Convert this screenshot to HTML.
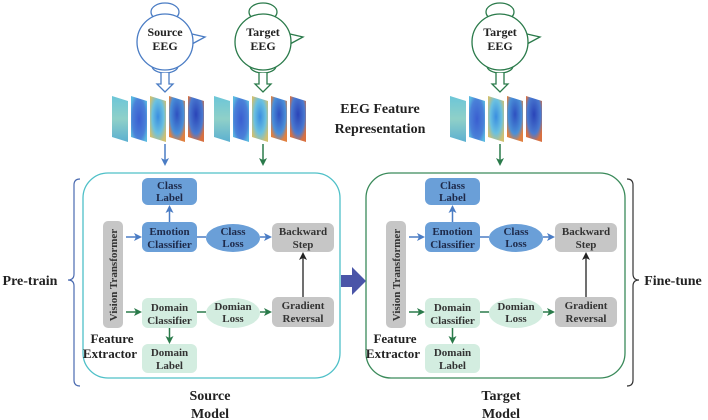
<!DOCTYPE html>
<html><head><meta charset="utf-8"><style>
html,body{margin:0;padding:0;background:#fff;}
svg{display:block;font-family:"Liberation Serif",serif;font-weight:bold;}
</style></head><body>
<svg width="708" height="420" viewBox="0 0 708 420" xmlns="http://www.w3.org/2000/svg">
<defs>
<linearGradient id="p1" x1="0" y1="0" x2="0" y2="1"><stop offset="0" stop-color="#6cc6d8"/><stop offset="0.5" stop-color="#8fd0c8"/><stop offset="1" stop-color="#5cb0d0"/></linearGradient>
<radialGradient id="p2" cx="0.5" cy="0.5" r="0.6"><stop offset="0" stop-color="#3a5ed0"/><stop offset="0.7" stop-color="#4a80d8"/><stop offset="1" stop-color="#5ab8e0"/></radialGradient>
<radialGradient id="p3" cx="0.5" cy="0.45" r="0.6"><stop offset="0" stop-color="#3a8ee0"/><stop offset="0.6" stop-color="#6ac0e0"/><stop offset="1" stop-color="#d0c070"/></radialGradient>
<radialGradient id="p4" cx="0.5" cy="0.4" r="0.6"><stop offset="0" stop-color="#2e50c0"/><stop offset="0.7" stop-color="#4a90d8"/><stop offset="1" stop-color="#e08040"/></radialGradient>
<radialGradient id="p5" cx="0.5" cy="0.4" r="0.6"><stop offset="0" stop-color="#2a44b8"/><stop offset="0.7" stop-color="#4a7ad0"/><stop offset="1" stop-color="#d87040"/></radialGradient>
<g id="panels">
<polygon points="0,0 16,5 16,46 0,41" fill="url(#p1)"/>
<polygon points="19,0 35,5 35,46 19,41" fill="url(#p2)"/>
<polygon points="38,0 54,5 54,46 38,41" fill="url(#p3)"/>
<polygon points="57,0 73,5 73,46 57,41" fill="url(#p4)"/>
<polygon points="76,0 92,5 92,46 76,41" fill="url(#p5)"/>
</g>
<marker id="ab" markerWidth="8" markerHeight="8" refX="6" refY="4" orient="auto" markerUnits="userSpaceOnUse"><path d="M0,0 L8,4 L0,8 L2,4z" fill="#4a7cc4"/></marker>
<marker id="ag" markerWidth="8" markerHeight="8" refX="6" refY="4" orient="auto" markerUnits="userSpaceOnUse"><path d="M0,0 L8,4 L0,8 L2,4z" fill="#2a7a4a"/></marker>
<marker id="ak" markerWidth="8" markerHeight="8" refX="6" refY="4" orient="auto" markerUnits="userSpaceOnUse"><path d="M0,0 L8,4 L0,8 L2,4z" fill="#222"/></marker>
<g id="inner" font-size="11" text-anchor="middle" fill="#1e2a4a">
<rect x="142" y="178" width="55" height="27" rx="6" fill="#6a9fd8"/>
<text x="169.5" y="189">Class</text><text x="169.5" y="201">Label</text>
<rect x="103" y="221" width="20" height="107" rx="5" fill="#c6c6c6"/>
<text transform="translate(117,275) rotate(-90)" font-size="11" fill="#333">Vision Transformer</text>
<rect x="142" y="222" width="55" height="30" rx="6" fill="#6a9fd8"/>
<text x="169.5" y="235">Emotion</text><text x="169.5" y="248">Classifier</text>
<ellipse cx="233" cy="238" rx="27" ry="14" fill="#6a9fd8"/>
<text x="233" y="235">Class</text><text x="233" y="247">Loss</text>
<rect x="272" y="223" width="62" height="29" rx="6" fill="#c6c6c6"/>
<text x="303" y="235" fill="#333">Backward</text><text x="303" y="248" fill="#333">Step</text>
<rect x="142" y="298" width="55" height="30" rx="6" fill="#d3ede0"/>
<text x="169.5" y="311" fill="#333">Domain</text><text x="169.5" y="324" fill="#333">Classifier</text>
<ellipse cx="233" cy="313" rx="27" ry="15" fill="#d3ede0"/>
<text x="233" y="310" fill="#333">Domian</text><text x="233" y="322" fill="#333">Loss</text>
<rect x="272" y="297" width="62" height="30" rx="6" fill="#c6c6c6"/>
<text x="303" y="309" fill="#333">Gradient</text><text x="303" y="322" fill="#333">Reversal</text>
<rect x="142" y="344" width="55" height="29" rx="6" fill="#d3ede0"/>
<text x="169.5" y="356" fill="#333">Domain</text><text x="169.5" y="369" fill="#333">Label</text>
<text x="112" y="343" font-size="13" fill="#222">Feature</text>
<text x="110" y="358" font-size="13" fill="#222">Extractor</text>
<line x1="169.5" y1="222" x2="169.5" y2="207" stroke="#4a7cc4" stroke-width="1.5" marker-end="url(#ab)"/>
<line x1="126" y1="237" x2="140" y2="237" stroke="#4a7cc4" stroke-width="1.5" marker-end="url(#ab)"/>
<line x1="197" y1="237" x2="206" y2="237" stroke="#4a7cc4" stroke-width="1.5"/>
<line x1="260" y1="237" x2="270" y2="237" stroke="#4a7cc4" stroke-width="1.5" marker-end="url(#ab)"/>
<line x1="126" y1="312" x2="140" y2="312" stroke="#2a7a4a" stroke-width="1.5" marker-end="url(#ag)"/>
<line x1="197" y1="312" x2="206" y2="312" stroke="#2a7a4a" stroke-width="1.5"/>
<line x1="260" y1="312" x2="270" y2="312" stroke="#2a7a4a" stroke-width="1.5" marker-end="url(#ag)"/>
<line x1="169.5" y1="328" x2="169.5" y2="342" stroke="#2a7a4a" stroke-width="1.5" marker-end="url(#ag)"/>
<line x1="303" y1="297" x2="303" y2="254" stroke="#222" stroke-width="1.3" marker-end="url(#ak)"/>
</g>
<g id="head" fill="none" stroke-width="1.3">
<ellipse cx="0" cy="12" rx="14" ry="9" fill="#fff"/>
<ellipse cx="0" cy="66" rx="13" ry="7" fill="#fff"/>
<path d="M27,34 L40,37 L27,44" fill="#fff"/>
<circle cx="0" cy="42" r="28" fill="#fff"/>
<path d="M-4,73 V84 H-8 L0,92 L8,84 H4 V73" fill="#fff"/>
</g>
</defs>

<!-- heads -->
<use href="#head" x="165" y="0" stroke="#4a7cc4"/>
<use href="#head" x="263" y="0" stroke="#2a7a4a"/>
<use href="#head" x="500" y="0" stroke="#2a7a4a"/>
<g font-size="12" text-anchor="middle" fill="#222">
<text x="165" y="36">Source</text><text x="165" y="50">EEG</text>
<text x="263" y="36">Target</text><text x="263" y="50">EEG</text>
<text x="500" y="36">Target</text><text x="500" y="50">EEG</text>
</g>

<use href="#panels" x="112" y="96"/>
<use href="#panels" x="214" y="96"/>
<use href="#panels" x="450" y="96"/>

<text x="380" y="113" font-size="14" text-anchor="middle" fill="#222">EEG Feature</text>
<text x="380" y="133" font-size="14" text-anchor="middle" fill="#222">Representation</text>

<line x1="165" y1="144" x2="165" y2="164" stroke="#4a7cc4" stroke-width="1.5" marker-end="url(#ab)"/>
<line x1="263" y1="144" x2="263" y2="164" stroke="#2a7a4a" stroke-width="1.5" marker-end="url(#ag)"/>
<line x1="500" y1="144" x2="500" y2="164" stroke="#2a7a4a" stroke-width="1.5" marker-end="url(#ag)"/>

<rect x="83" y="173" width="257" height="205" rx="25" fill="none" stroke="#4fc0c8" stroke-width="1.3"/>
<rect x="366" y="173" width="259" height="205" rx="25" fill="none" stroke="#3a8a5a" stroke-width="1.3"/>

<use href="#inner"/>
<use href="#inner" x="283"/>

<!-- braces -->
<path d="M80,179 Q74,179 74,185 V274 Q74,280 68,280 Q74,280 74,286 V380 Q74,386 80,386" fill="none" stroke="#4a6ab0" stroke-width="1.2"/>
<path d="M627,179 Q633,179 633,185 V274 Q633,280 639,280 Q633,280 633,286 V380 Q633,386 627,386" fill="none" stroke="#333" stroke-width="1.2"/>
<text x="30" y="285" font-size="14" text-anchor="middle" fill="#222">Pre-train</text>
<text x="673" y="285" font-size="14" text-anchor="middle" fill="#222">Fine-tune</text>

<!-- big arrow -->
<path d="M341,275 H352 V267 L366,281 L352,295 V287 H341z" fill="#4a55a8"/>

<g font-size="14" text-anchor="middle" fill="#222">
<text x="210" y="400">Source</text><text x="210" y="418">Model</text>
<text x="501" y="400">Target</text><text x="501" y="418">Model</text>
</g>
</svg>
</body></html>
